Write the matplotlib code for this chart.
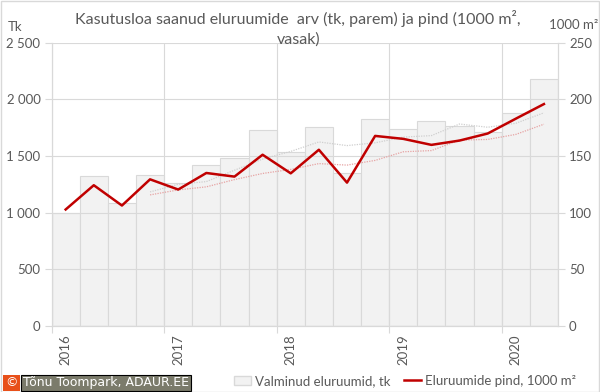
import matplotlib
matplotlib.use("Agg")
import matplotlib.pyplot as plt
import numpy as np
import pandas as pd
from matplotlib.patches import Rectangle
from matplotlib.lines import Line2D

plt.rcParams['font.family'] = ['Lato', 'DejaVu Sans']

# quarterly data 2016 Q1 .. 2020 Q2
quarters = ['2016 Q1', '2016 Q2', '2016 Q3', '2016 Q4',
            '2017 Q1', '2017 Q2', '2017 Q3', '2017 Q4',
            '2018 Q1', '2018 Q2', '2018 Q3', '2018 Q4',
            '2019 Q1', '2019 Q2', '2019 Q3', '2019 Q4',
            '2020 Q1', '2020 Q2']
dwellings = [994, 1325, 1082, 1335, 1263, 1421, 1482, 1728, 1535,
             1754, 1354, 1825, 1737, 1807, 1763, 1711, 1877, 2176]
area = [102.9, 124.3, 106.4, 129.5, 120.5, 135.1, 131.9, 151.2, 134.8,
        155.6, 126.6, 167.8, 165.2, 159.9, 163.7, 169.9, 183.0, 195.9]
year_labels = ['2016', '2017', '2018', '2019', '2020']

# 4-quarter moving averages (Excel trendlines)
dw_ma = pd.Series(dwellings).rolling(4).mean()
area_ma = pd.Series(area).rolling(4).mean()

txt = '#595959'
grid = '#d9d9d9'

fig = plt.figure(figsize=(6, 3.92), dpi=100)
ax = fig.add_axes([0.086, 0.168, 0.844, 0.723])
ax2 = ax.twinx()

x = np.arange(len(quarters))
ax.bar(x, dwellings, width=1.0, color='#f2f2f2', edgecolor=grid, linewidth=0.8, zorder=1)
ax.plot(x, dw_ma, color='#cfcfcf', lw=0.9, ls=(0, (1, 1)), zorder=3)

ax2.plot(x, area_ma, color='#e6a3a3', lw=0.9, ls=(0, (1, 1)))
ax2.plot(x, area, color='#c00000', lw=1.8)

ax.set_xlim(-0.5, len(quarters) - 0.5)
ax.set_ylim(0, 2500)
ax2.set_ylim(0, 250)

ax.set_yticks(np.arange(0, 2501, 500))
ax.set_yticklabels([f'{v:,}'.replace(',', ' ') for v in range(0, 2501, 500)])
ax2.set_yticks(np.arange(0, 251, 50))

ax.yaxis.grid(True, color=grid, lw=0.8)
ax.set_xticks(np.arange(-0.5, len(quarters), 4))
ax.set_xticklabels([])
ax.xaxis.grid(True, color=grid, lw=0.8)
ax.set_xticks(np.arange(0, len(quarters), 4), minor=True)
ax.set_xticklabels(year_labels, minor=True, rotation=90)
ax.tick_params(axis='x', which='minor', length=0, pad=6)
ax.tick_params(axis='x', which='major', length=5, color=grid)
ax.tick_params(axis='y', length=5, color=grid, labelsize=9.5, labelcolor=txt, pad=3)
ax.tick_params(axis='x', labelsize=9.5, labelcolor=txt, which='both')
ax2.tick_params(axis='y', length=5, color=grid, labelsize=9.5, labelcolor=txt, pad=3)

for a in (ax, ax2):
    a.spines['top'].set_visible(False)
    for s in ('left', 'right', 'bottom'):
        a.spines[s].set_color(grid)
        a.spines[s].set_linewidth(0.8)

fig.text(0.497, 0.927, 'Kasutusloa saanud eluruumide  arv (tk, parem) ja pind (1000 m²,\nvasak)',
         ha='center', va='center', fontsize=11.5, color=txt, linespacing=1.45)
fig.text(0.013, 0.932, 'Tk', fontsize=9.5, color=txt, va='center')
fig.text(0.997, 0.935, '1000 m²', fontsize=9.5, color=txt, va='center', ha='right')

handles = [Rectangle((0, 0), 1, 1, facecolor='#f2f2f2', edgecolor=grid),
           Line2D([0], [0], color='#c00000', lw=1.8)]
fig.legend(handles, ['Valminud eluruumid, tk', 'Eluruumide pind, 1000 m²'],
           loc='center', bbox_to_anchor=(0.675, 0.028), ncol=2, frameon=False,
           fontsize=9.5, labelcolor=txt, handlelength=1.3, handletextpad=0.3,
           columnspacing=1.0, borderaxespad=0)

# copyright box
fig.text(0.038, 0.023, 'Tõnu Toompark, ADAUR.EE', family='DejaVu Sans', fontsize=9,
         color='white', va='center', ha='left',
         bbox=dict(boxstyle='square,pad=0.15', facecolor='#7b7b6b', edgecolor='black', lw=0.8))
fig.text(0.019, 0.023, '©', family='DejaVu Sans', fontsize=9, color='white',
         va='center', ha='center',
         bbox=dict(boxstyle='square,pad=0.15', facecolor='#e8501a', edgecolor='none'))

fig.patches.append(Rectangle((0.001, 0.001), 0.997, 0.997, transform=fig.transFigure,
                             fill=False, edgecolor=grid, lw=1))

fig.savefig('out.png', dpi=100)
